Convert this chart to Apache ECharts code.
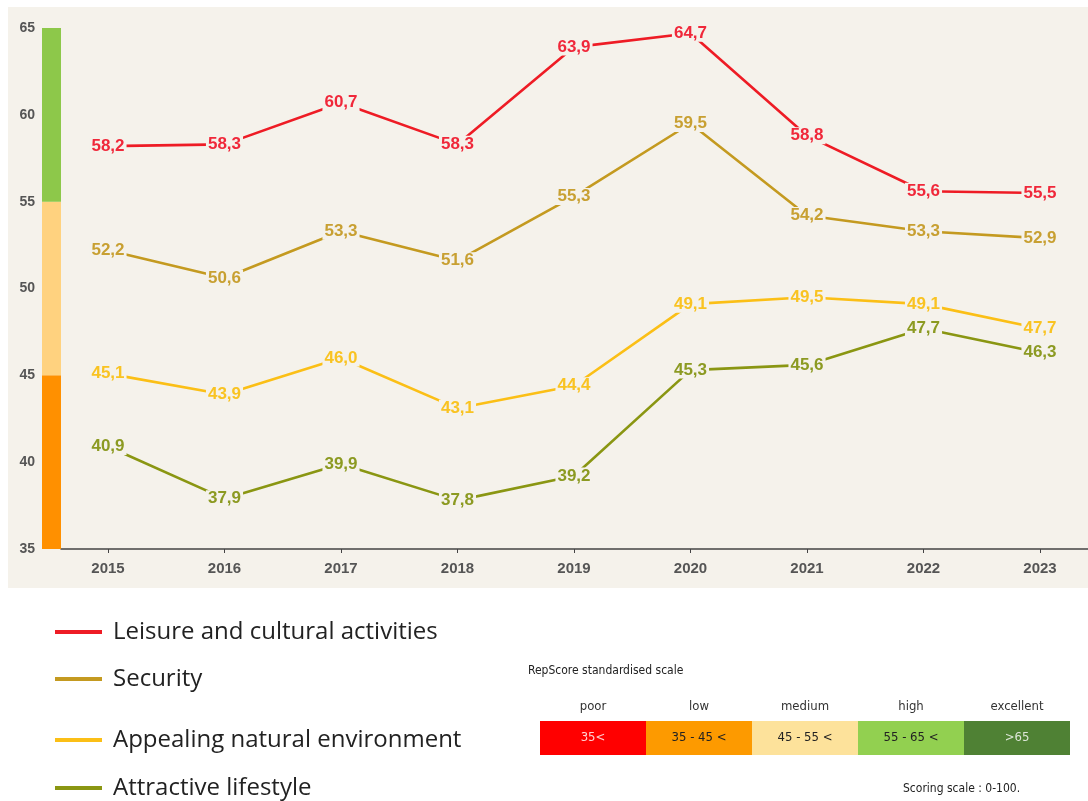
<!DOCTYPE html>
<html>
<head>
<meta charset="utf-8">
<title>RepScore</title>
<script src="https://cdn.jsdelivr.net/npm/echarts@6/dist/echarts.min.js"></script>
<style>
    html, body { margin: 0; padding: 0; background: #fff; }
    #chart { width: 1088px; height: 801px; }
</style>
</head>
<body>
<div id="chart"></div>
<script>
// 数据
var years = ['2015', '2016', '2017', '2018', '2019', '2020', '2021', '2022', '2023'];
var seriesNames = ['Leisure and cultural activities', 'Security', 'Appealing natural environment', 'Attractive lifestyle'];
var leisure = [58.2, 58.3, 60.7, 58.3, 63.9, 64.7, 58.8, 55.6, 55.5];
var security = [52.2, 50.6, 53.3, 51.6, 55.3, 59.5, 54.2, 53.3, 52.9];
var appealing = [45.1, 43.9, 46.0, 43.1, 44.4, 49.1, 49.5, 49.1, 47.7];
var attractive = [40.9, 37.9, 39.9, 37.8, 39.2, 45.3, 45.6, 47.7, 46.3];
var lineColors = ['#ee1c25', '#c49a20', '#fbbf16', '#8a9612'];
var labelColors = ['#f0283a', '#c8a032', '#f9c322', '#8c9a22'];

// 左侧色带: 起点 35, 然后 45-55, 55-65
var bandBase = 35;
var bandSizes = [10, 10, 10];
var bandColors = ['#ff9000', '#ffd27f', '#8dc84a'];

// 评分表
var scaleNames = ['poor', 'low', 'medium', 'high', 'excellent'];
var scaleRanges = ['35<', '35 - 45 <', '45 - 55 <', '55 - 65 <', '>65'];
var scaleColors = ['#ff0000', '#fd9a00', '#fde29b', '#92d050', '#4f8134'];
var scaleTextColors = ['#ffd0d0', '#222222', '#222222', '#222222', '#dde6d8'];

var bg = '#f5f2eb';
var narrow = '"Liberation Sans Narrow", "DejaVu Sans Condensed", "Liberation Sans", sans-serif';
var chart = echarts.init(document.getElementById('chart'));

function fmt(v) {
    return v.toFixed(1).replace('.', ',');
}

var allData = [leisure, security, appealing, attractive];
var lineSeries = allData.map(function (d, i) {
    return {
        name: seriesNames[i],
        type: 'line',
        xAxisIndex: 0,
        yAxisIndex: 0,
        data: d,
        symbol: 'circle',
        symbolSize: 1,
        showSymbol: true,
        color: lineColors[i],
        itemStyle: { color: lineColors[i] },
        lineStyle: { width: 2.6, color: lineColors[i] },
        label: {
            show: true,
            position: 'inside',
            formatter: function (p) { return fmt(p.value); },
            color: labelColors[i],
            fontFamily: 'Liberation Sans',
            fontWeight: 'bold',
            fontSize: 17,
            backgroundColor: bg,
            padding: [0, 2]
        },
        labelLayout: { hideOverlap: false },
        z: 3
    };
});

var bandSeries = bandSizes.map(function (s, i) {
    return {
        type: 'bar',
        xAxisIndex: 1,
        yAxisIndex: 1,
        stack: 'band',
        data: [i === 0 ? bandBase + s : s],
        barWidth: '100%',
        itemStyle: { color: bandColors[i] },
        silent: true,
        z: 4
    };
});

// 图例位置
var legendTops = [620, 667, 728, 776];
var legends = seriesNames.map(function (n, i) {
    return {
        data: [n],
        left: 55,
        top: legendTops[i],
        padding: 0,
        icon: 'rect',
        itemWidth: 47,
        itemHeight: 4,
        textStyle: {
            fontFamily: 'Open Sans',
            fontSize: 24,
            color: '#222',
            padding: [0, 0, 0, 6]
        }
    };
});

var graphics = [{
    type: 'rect',
    z: -100,
    shape: { x: 8, y: 7, width: 1080, height: 581 },
    style: { fill: bg }
}, {
    type: 'text',
    left: 528,
    top: 665,
    style: { text: 'RepScore standardised scale', font: '12px ' + narrow, fill: '#222' }
}, {
    type: 'text',
    left: 903,
    top: 783,
    style: { text: 'Scoring scale : 0-100.', font: '12px ' + narrow, fill: '#222' }
}];
var cellW = 106;
scaleNames.forEach(function (n, i) {
    var x = 540 + i * cellW;
    graphics.push({
        type: 'rect',
        shape: { x: x, y: 721, width: cellW, height: 34 },
        style: { fill: scaleColors[i] }
    });
    graphics.push({
        type: 'text',
        x: x + cellW / 2,
        y: 707,
        style: { text: n, font: '13px ' + narrow, fill: '#333', align: 'center', verticalAlign: 'middle' }
    });
    graphics.push({
        type: 'text',
        x: x + cellW / 2,
        y: 738,
        style: { text: scaleRanges[i], font: '13px ' + narrow, fill: scaleTextColors[i], align: 'center', verticalAlign: 'middle' }
    });
});

var option = {
    animation: false,
    backgroundColor: '#fff',
    legend: legends,
    graphic: graphics,
    grid: [
        { left: 108, right: 48, top: 28, bottom: 252 },
        { left: 42, width: 19, top: 28, bottom: 252 },
        { left: 61, right: 0, top: 28, bottom: 252 }
    ],
    xAxis: [{
        type: 'category',
        gridIndex: 0,
        data: years,
        boundaryGap: false,
        axisLine: { show: false },
        axisTick: { show: true, length: 4, lineStyle: { color: '#444' } },
        axisLabel: {
            margin: 12,
            color: '#555',
            fontFamily: 'Liberation Sans',
            fontWeight: 'bold',
            fontSize: 15
        }
    }, {
        type: 'category',
        gridIndex: 1,
        data: [''],
        axisLine: { show: false },
        axisTick: { show: false },
        axisLabel: { show: false }
    }, {
        type: 'value',
        gridIndex: 2,
        min: 0,
        max: 1,
        axisLine: { show: true, lineStyle: { color: '#444', width: 1.5 } },
        axisTick: { show: false },
        axisLabel: { show: false },
        splitLine: { show: false }
    }],
    yAxis: [{
        type: 'value',
        gridIndex: 0,
        min: 35,
        max: 65,
        interval: 5,
        axisLine: { show: false },
        axisTick: { show: false },
        axisLabel: { show: false },
        splitLine: { show: false }
    }, {
        type: 'value',
        gridIndex: 1,
        min: 35,
        max: 65,
        interval: 5,
        axisLine: { show: false },
        axisTick: { show: false },
        splitLine: { show: false },
        axisLabel: {
            margin: 7,
            color: '#555',
            fontFamily: 'Liberation Sans',
            fontWeight: 'bold',
            fontSize: 14
        }
    }, {
        type: 'value',
        gridIndex: 2,
        show: false
    }],
    series: lineSeries.concat(bandSeries)
};

chart.setOption(option);
</script>
</body>
</html>
